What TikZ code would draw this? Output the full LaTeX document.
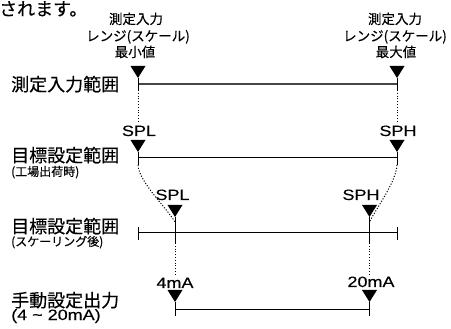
\documentclass[tikz,border=0pt]{standalone}
\usepackage{fontspec}
\setmainfont{Noto Sans CJK JP}[FakeBold=0.3]
\newfontfamily\lat{Liberation Sans}[FakeStretch=1.2,FakeBold=0.15]
\usetikzlibrary{calc}
\tikzset{
  jp/.style={font=\fontsize{18}{20}\selectfont, inner sep=0pt, anchor=base west},
  subl/.style={font=\fontsize{12}{14}\selectfont, inner sep=0pt, anchor=base west},
  toplbl/.style={font=\fontsize{13.5}{16}\selectfont, inner sep=0pt, anchor=base},
  mk/.style={font=\lat\fontsize{15}{17}\selectfont, inner sep=0pt, anchor=base},
  rngA/.style={line width=1.2pt, draw=black!72},
  rng/.style={line width=1pt, draw=black},
  tk/.style={line width=1pt, draw=black},
  dotl/.style={line width=1pt, dash pattern=on 1.1pt off 1.7pt},
  tri/.pic={\fill (-7.5,-12) -- (7.5,-12) -- (0,0) -- cycle;}
}
\begin{document}
\begin{tikzpicture}[x=1pt,y=-1pt]
\useasboundingbox (0,0) rectangle (451,329);

% top caption fragment
\node[font=\fontsize{18}{20}\selectfont, inner sep=0pt, anchor=base west] (cap) at (-1,15.5) {されます。};

% top labels
\node[toplbl] (tl1) at (136,24) {測定入力};
\node[toplbl] (tl2) at (138,41) {レンジ(スケール)};
\node[toplbl] (tl3) at (135,57) {最小値};
\node[toplbl] (tr1) at (395,24) {測定入力};
\node[toplbl] (tr2) at (395,41) {レンジ(スケール)};
\node[toplbl] (tr3) at (396,57) {最大値};

% left labels
\node[jp] (r1) at (11,91) {測定入力範囲};
\node[jp] (r2) at (11,162) {目標設定範囲};
\node[subl] (r2s) at (11,176) {(工場出荷時)};
\node[jp] (r3) at (11,233) {目標設定範囲};
\node[subl] (r3s) at (11,246) {(スケーリング後)};
\node[jp] (r4) at (11,307) {手動設定出力};
\node[mk, anchor=base west] (r4s) at (11,320) {(4 \textasciitilde\ 20mA)};

% coordinates
\coordinate (a1) at (138,84);
\coordinate (b1) at (397,84);
\coordinate (a2) at (138,158);
\coordinate (b2) at (397,158);
\coordinate (a3) at (138,233);
\coordinate (b3) at (397,233);
\coordinate (c3) at (175,233);
\coordinate (d3) at (369.5,233);
\coordinate (c4) at (175,310);
\coordinate (d4) at (369.5,310);

% marker labels
\node[mk] (spl2) at (139,136) {SPL};
\node[mk] (sph2) at (398,136) {SPH};
\node[mk] (spl3) at (172.5,200) {SPL};
\node[mk] (sph3) at (361,200) {SPH};
\node[mk] (ma4) at (175,288) {4mA};
\node[mk] (ma20) at (371,287) {20mA};

% row 1
\draw[rngA] (a1) -- (b1);
\draw[tk] ($(a1)+(0,-6)$) -- ($(a1)+(0,6)$);
\draw[tk] ($(b1)+(0,-6)$) -- ($(b1)+(0,6)$);
\pic at ($(a1)+(0,-6)$) {tri};
\pic at ($(b1)+(0,-6)$) {tri};
\draw[dotl] ($(a1)+(0,6)$) -- ($(spl2.north)+(-1,-3)$);
\draw[dotl] ($(b1)+(0,6)$) -- ($(sph2.north)+(-1,-3)$);

% row 2
\draw[rng] (a2) -- (b2);
\draw[tk] ($(a2)+(0,-6)$) -- ($(a2)+(0,7)$);
\draw[tk] ($(b2)+(0,-6)$) -- ($(b2)+(0,7)$);
\pic at ($(a2)+(0,-6)$) {tri};
\pic at ($(b2)+(0,-6)$) {tri};
\draw[dotl] ($(a2)+(0,7)$) .. controls (139,182) and (166,207) .. ($(c3)+(0,-11)$);
\draw[dotl] ($(b2)+(0,7)$) .. controls (396,182) and (377,207) .. ($(d3)+(0,-11)$);

% row 3
\draw[rng] (a3) -- (b3);
\draw[tk] ($(a3)+(0,-6)$) -- ($(a3)+(0,7)$);
\draw[tk] ($(b3)+(0,-6)$) -- ($(b3)+(0,7)$);
\draw[tk] ($(c3)+(0,-16)$) -- ($(c3)+(0,10)$);
\draw[tk] ($(d3)+(0,-16)$) -- ($(d3)+(0,10)$);
\pic at ($(c3)+(0,-16)$) {tri};
\pic at ($(d3)+(0,-16)$) {tri};
\draw[dotl] ($(c3)+(0,10)$) -- ($(ma4.north)+(0,-3)$);
\draw[dotl] ($(d3)+(0,10)$) -- ($(d4)+(0,-36)$);

% row 4
\draw[rng] (c4) -- (d4);
\draw[tk] ($(c4)+(0,-8)$) -- ($(c4)+(0,6)$);
\draw[tk] ($(d4)+(0,-8)$) -- ($(d4)+(0,6)$);
\pic at ($(c4)+(0,-8)$) {tri};
\pic at ($(d4)+(0,-8)$) {tri};
\end{tikzpicture}
\end{document}
